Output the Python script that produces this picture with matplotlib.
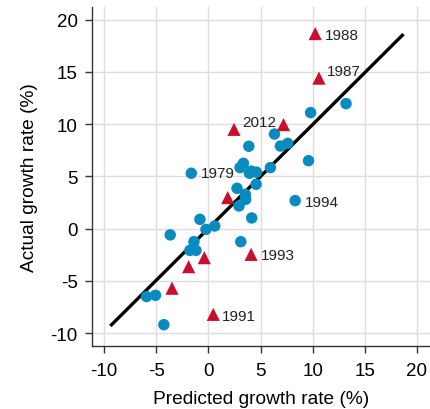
import matplotlib
matplotlib.use("Agg")
import matplotlib.pyplot as plt

plt.rcParams['font.family'] = ['Liberation Sans', 'DejaVu Sans']

# Прогноз vs факт (кружки)
circle_x = [13.2, 9.8, 6.33, 7.6, 6.9, 3.87, 9.6, 3.35, 3.03, 5.94, 4.1, 4.6, -1.65, 3.93,
            2.74, 3.54, 4.57, 3.57, 2.93, 8.32, 4.15, -0.82, 0.6, -0.24, -3.67, 3.1,
            -1.39, -1.78, -1.2, -5.94, -5.08, -4.28]
circle_y = [11.96, 11.1, 9.05, 8.16, 7.9, 7.88, 6.5, 6.25, 5.84, 5.84, 5.5, 5.4, 5.3, 5.3,
            3.86, 3.28, 4.24, 2.8, 2.17, 2.68, 1.02, 0.89, 0.25, -0.07, -0.6, -1.25,
            -1.25, -2.08, -2.08, -6.5, -6.38, -9.19]

# Выбросы (треугольники)
tri_x = [10.24, 10.6, 2.45, 7.2, 1.85, 4.09, -0.4, -1.9, -3.5, 0.46]
tri_y = [18.66, 14.4, 9.5, 9.95, 2.97, -2.46, -2.78, -3.64, -5.7, -8.2]

# Подписи годов
labels = ['1988', '1987', '2012', '1979', '1994', '1993', '1991']
label_x = [10.24, 10.6, 2.45, -1.65, 8.32, 4.09, 0.46]
label_y = [18.66, 14.4, 9.5, 5.3, 2.68, -2.46, -8.2]
label_dx = [10, 8, 8, 10, 10, 10, 9]
label_dy = [-1, 7, 7, 0, -1, -1, -2]

# Линия регрессии
fit_x = [-9.3, 18.6]
fit_y = [-9.2, 18.5]

ticks = [-10, -5, 0, 5, 10, 15, 20]

fig = plt.figure(figsize=(4.31, 4.10), dpi=100)
ax = fig.add_axes([0.2128, 0.1544, 0.786, 0.826])

ax.plot(fit_x, fit_y, color='black', linewidth=2.4, zorder=3)
ax.scatter(circle_x, circle_y, s=68, color='#0a8bbf', edgecolors='none', zorder=4)
ax.scatter(tri_x, tri_y, s=90, marker='^', color='#c8102e', edgecolors='none', zorder=4)

for lab, x, y, dx, dy in zip(labels, label_x, label_y, label_dx, label_dy):
    ax.annotate(lab, (x, y), xytext=(dx, dy), textcoords='offset pixels',
                ha='left', va='center', fontsize=11, color='#222222', zorder=5)

ax.set_xlim(-11.2, 21.3)
ax.set_ylim(-11.2, 21.2)
ax.set_xticks(ticks)
ax.set_yticks(ticks)
ax.set_xticklabels([str(t) if t >= 0 else '-' + str(-t) for t in ticks])
ax.set_yticklabels([str(t) if t >= 0 else '-' + str(-t) for t in ticks])
ax.tick_params(labelsize=13.5, length=5, width=1, color='#333333', pad=5)
ax.tick_params(axis='x', pad=6.5)
ax.grid(True, color='#dddddd', linewidth=1)
ax.set_axisbelow(True)
for s in ['top', 'right']:
    ax.spines[s].set_visible(False)
for s in ['left', 'bottom']:
    ax.spines[s].set_color('#333333')
    ax.spines[s].set_linewidth(1)

ax.set_xlabel('Predicted growth rate (%)', fontsize=13.8, va='center')
ax.set_ylabel('Actual growth rate (%)', fontsize=13.8, va='center')
ax.xaxis.set_label_coords(0.5, -0.157)
ax.yaxis.set_label_coords(-0.185, 0.5)

fig.savefig('out.png', dpi=100)
